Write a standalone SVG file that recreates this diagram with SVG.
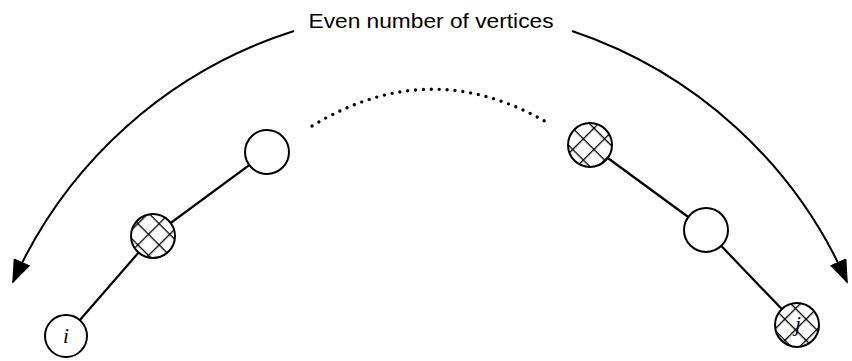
<svg xmlns="http://www.w3.org/2000/svg" width="852" height="361" viewBox="0 0 852 361">
<style>
.edge{stroke:#000;stroke-width:2.2;fill:none}
.arc{stroke:#000;stroke-width:2;fill:none}
.node{stroke:#000;stroke-width:2;fill:#fff}
.hatch{stroke:#000;stroke-width:2;fill:url(#xh)}
.lbl{font-family:"Liberation Serif",serif;font-style:italic;font-size:21px;fill:#000}
.title{font-family:"Liberation Sans",Arial,sans-serif;font-size:20px;fill:#000}
</style>
<defs>
<pattern id="xh" patternUnits="userSpaceOnUse" width="15" height="15" patternTransform="rotate(45)">
<rect width="15" height="15" fill="#fff"/>
<line x1="0" y1="0" x2="15" y2="0" stroke="#000" stroke-width="2.6"/>
<line x1="0" y1="0" x2="0" y2="15" stroke="#000" stroke-width="2.6"/>
</pattern>
<marker id="ahb" markerWidth="24" markerHeight="18" refX="22" refY="9" orient="auto" markerUnits="userSpaceOnUse" viewBox="0 0 24 18">
<path d="M0,0 L24,9 L0,18 z" fill="#000"/>
</marker>
</defs>
<g id="connectors">
<line class="edge" x1="66" y1="336" x2="153" y2="236"/>
<line class="edge" x1="153" y1="236" x2="267" y2="152"/>
<line class="edge" x1="590" y1="145" x2="706" y2="230"/>
<line class="edge" x1="706" y1="230" x2="797" y2="325"/>
<path class="arc" d="M294,31 A460,460 0 0 0 13,282" marker-end="url(#ahb)"/>
<path class="arc" d="M572,31 A460,460 0 0 1 847,282" marker-end="url(#ahb)"/>
<path d="M312,126 Q430,54 548,123" fill="none" stroke="#000" stroke-width="3.4" stroke-linecap="round" stroke-dasharray="0 7.9"/>
</g>
<g id="title"><text class="title" x="431" y="28" text-anchor="middle" textLength="245" lengthAdjust="spacingAndGlyphs">Even number of vertices</text></g>
<g id="node-i"><circle class="node" cx="66" cy="336" r="21"/><text class="lbl" x="66" y="343" text-anchor="middle">i</text></g>
<g id="node-l2"><circle class="hatch" cx="153" cy="236" r="22"/></g>
<g id="node-l3"><circle class="node" cx="267" cy="152" r="22"/></g>
<g id="node-r3"><circle class="hatch" cx="590" cy="145" r="22"/></g>
<g id="node-r2"><circle class="node" cx="706" cy="230" r="22"/></g>
<g id="node-j"><circle class="hatch" cx="797" cy="325" r="22"/><text class="lbl" x="798" y="331" text-anchor="middle">j</text></g>
</svg>
